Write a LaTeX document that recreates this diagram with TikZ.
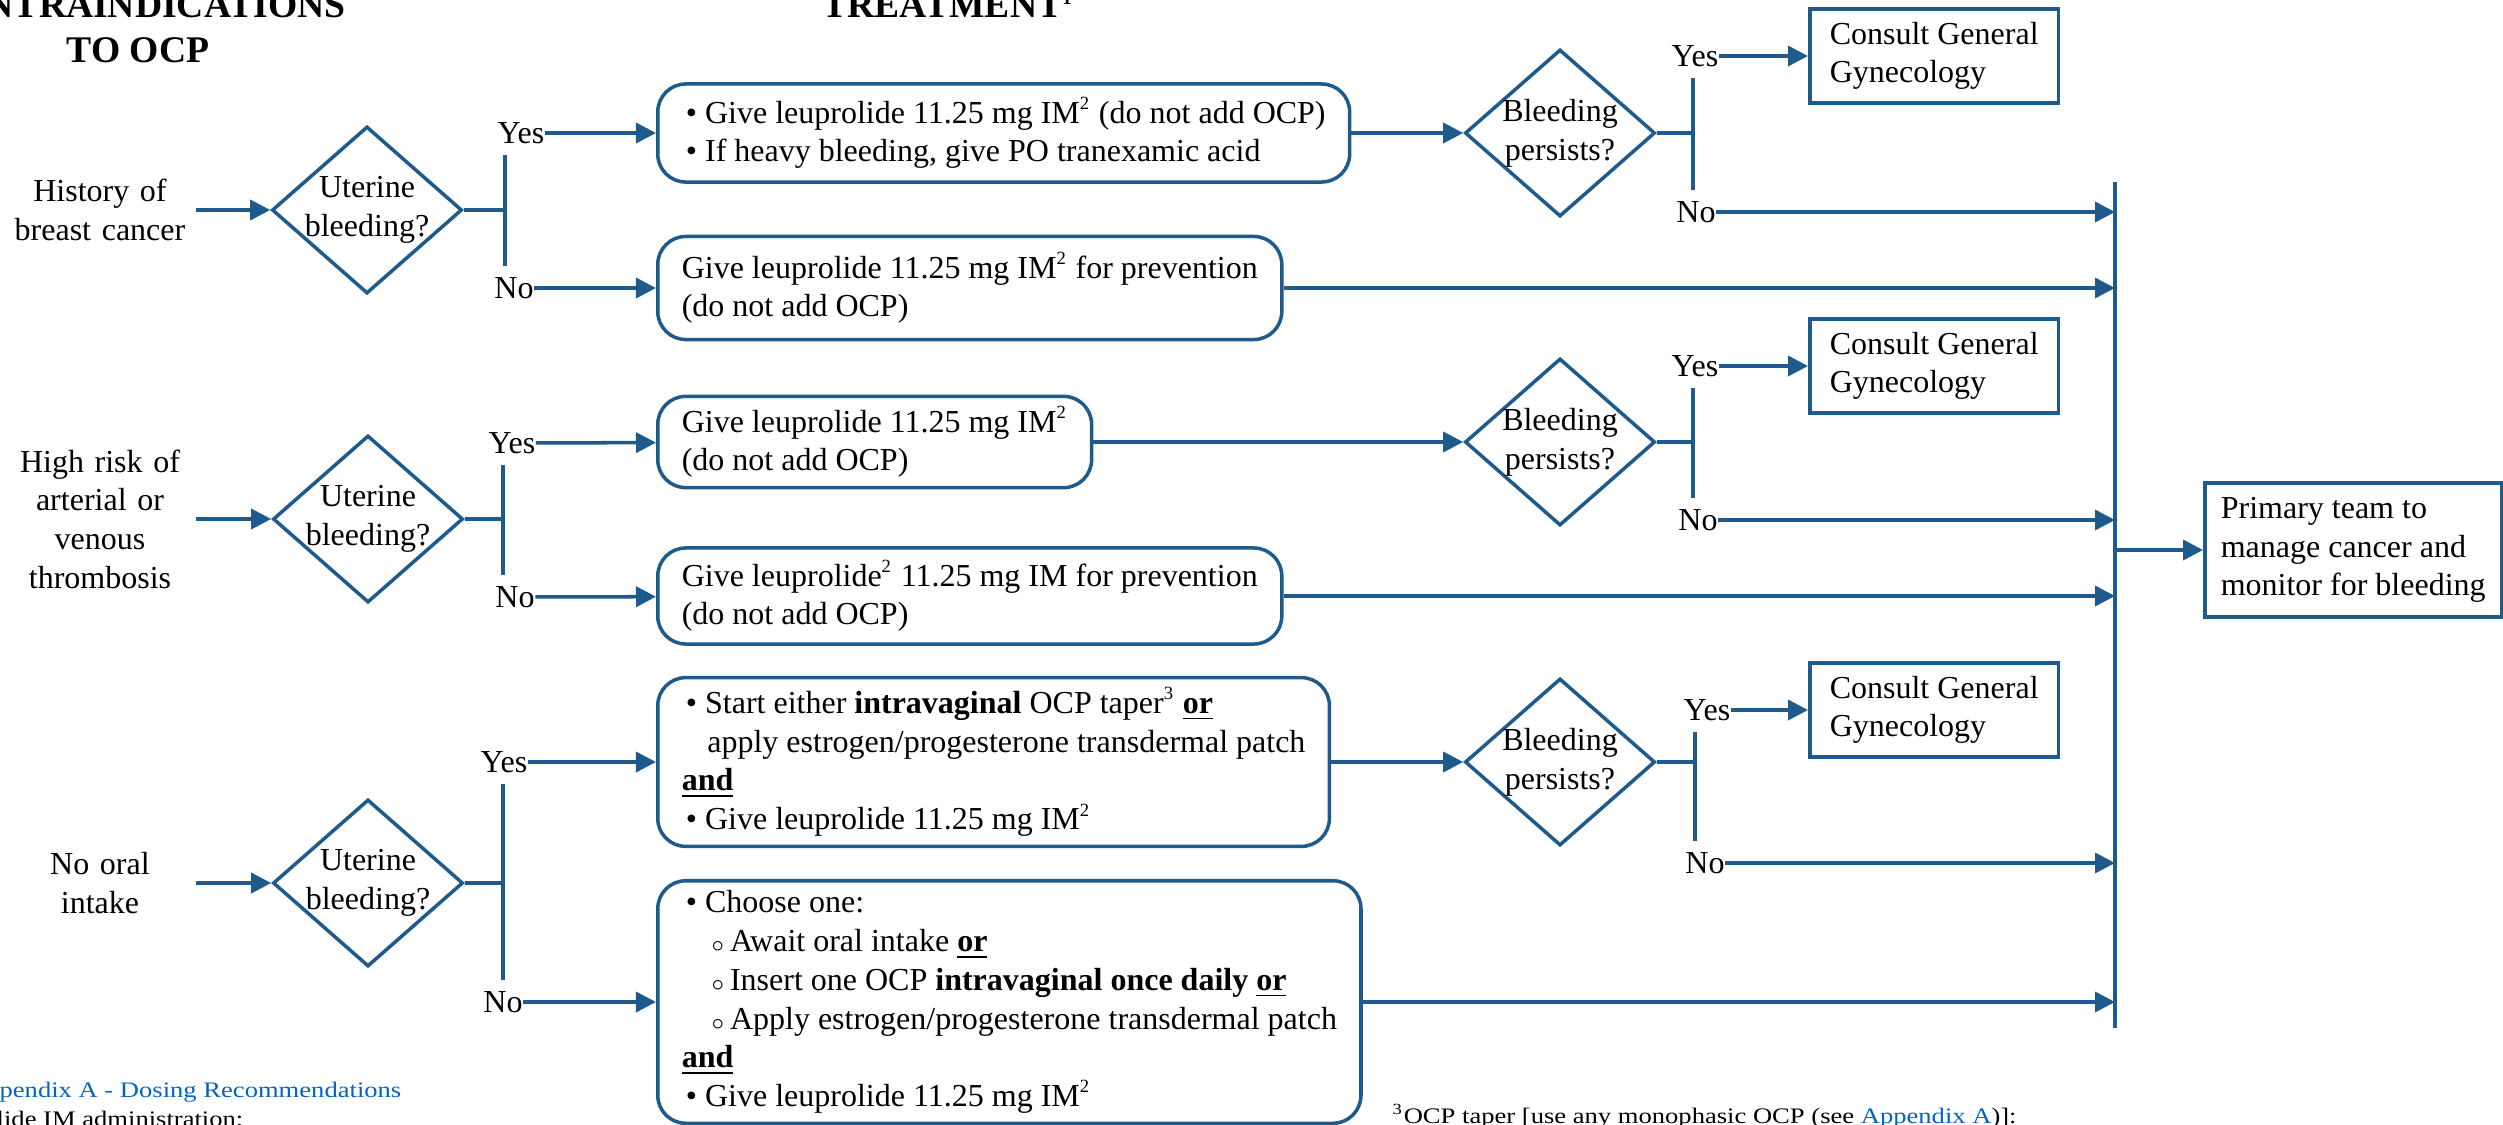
\documentclass[tikz,border=0pt]{standalone}
\usepackage{fontspec}
\setmainfont{Liberation Serif}
\newfontfamily\notefont{Liberation Serif}[FakeStretch=1.2]
\usepackage{xcolor}
\usepackage{tikz}
\usetikzlibrary{shapes.geometric, positioning, arrows.meta, calc}
\definecolor{flowblue}{RGB}{30,90,140}
\definecolor{linkblue}{RGB}{5,99,193}
\newcommand{\bulletitem}{\hspace*{0.13em}\textbullet\ }
\newcommand{\circitem}{\hspace*{0.92em}${\scriptstyle\circ}$\,}
\newcommand{\supnum}[1]{\textsuperscript{\fontsize{5.3pt}{5.3pt}\selectfont#1}}

\begin{document}
\begin{tikzpicture}[
        x=0.01cm, y=-0.01cm,
        font=\fontsize{9.1pt}{11pt}\selectfont,
        cond/.style={text width=1.9cm, inner sep=0pt, align=center},
        decision/.style={diamond, draw=flowblue, line width=1pt, minimum width=1.9cm, minimum height=1.67cm, inner sep=-3pt, align=center},
        treat/.style={rectangle, draw=flowblue, line width=1pt, rounded corners=0.28cm, align=left, inner xsep=0.24cm, inner ysep=0.1cm, anchor=west},
        consult/.style={rectangle, draw=flowblue, line width=1pt, align=left, inner xsep=0.2cm, minimum height=0.94cm, anchor=west},
        answer/.style={inner xsep=0pt, inner ysep=3pt},
        heading/.style={font=\fontsize{10.7pt}{12.8pt}\selectfont\bfseries, align=center},
        note/.style={font=\notefont\fontsize{6.3pt}{7.5pt}\selectfont, inner sep=0pt},
        branch/.style={draw=flowblue, line width=1pt},
        arr/.style={branch, -{Triangle[length=0.2cm, width=0.2cm]}}
    ]
    \useasboundingbox (0,0) rectangle (2503,1124);
    \clip (0,0) rectangle (2503,1124);

    % Column headings
    \node[heading] (hcontra) at (138,28) {CONTRAINDICATIONS\\TO OCP};
    \node[heading, anchor=base] (htreat) at (948,18) {TREATMENT\supnum{1}};

    % Collecting line and final box
    \coordinate (bus) at (2115,182);
    \coordinate (busend) at (2115,1028);
    \node[consult, inner xsep=0.16cm, minimum height=1.34cm] (prim) at (2203,550) {Primary team to\\manage cancer and\\monitor for bleeding};

    % Row 1: history of breast cancer
    \node[cond] (c1) at (100,210) {History of\\breast cancer};
    \node[decision] (q1) at (367,210) {Uterine\\bleeding?};
    \node[answer] (y1) at (521,133) {Yes};
    \node[answer] (n1) at (514,288) {No};
    \node[treat, minimum height=0.98cm] (b1) at (656,133) {\bulletitem Give leuprolide 11.25 mg IM\supnum{2} (do not add OCP)\\\bulletitem If heavy bleeding, give PO tranexamic acid};
    \node[treat, minimum height=1.03cm] (b2) at (656,288) {Give leuprolide 11.25 mg IM\supnum{2} for prevention\\(do not add OCP)};
    \node[decision] (p1) at (1560,133) {Bleeding\\persists?};
    \node[answer] (py1) at (1695,56) {Yes};
    \node[answer] (pn1) at (1696,212) {No};
    \node[consult] (g1) at (1808,56) {Consult General\\Gynecology};

    % Row 2: high risk of thrombosis
    \node[cond] (c2) at (100,519) {High risk of\\arterial or\\venous\\thrombosis};
    \node[decision] (q2) at (368,519) {Uterine\\bleeding?};
    \node[answer] (y2) at (512,443) {Yes};
    \node[answer] (n2) at (515,597) {No};
    \node[treat, minimum height=0.9cm] (b3) at (656,442) {Give leuprolide 11.25 mg IM\supnum{2}\\(do not add OCP)};
    \node[treat, minimum height=0.96cm] (b4) at (656,596) {Give leuprolide\supnum{2} 11.25 mg IM for prevention\\(do not add OCP)};
    \node[decision] (p2) at (1560,442) {Bleeding\\persists?};
    \node[answer] (py2) at (1695,366) {Yes};
    \node[answer] (pn2) at (1698,520) {No};
    \node[consult] (g2) at (1808,366) {Consult General\\Gynecology};

    % Row 3: no oral intake
    \node[cond] (c3) at (100,883) {No oral\\intake};
    \node[decision] (q3) at (368,883) {Uterine\\bleeding?};
    \node[answer] (y3) at (504,762) {Yes};
    \node[answer] (n3) at (503,1002) {No};
    \node[treat, minimum height=1.68cm] (b5) at (656,762) {\bulletitem Start either \textbf{intravaginal} OCP taper\supnum{3} \textbf{\underline{or}}\\\hspace*{0.8em}apply estrogen/progesterone transdermal patch\\\textbf{\underline{and}}\\\bulletitem Give leuprolide 11.25 mg IM\supnum{2}};
    \node[treat, minimum height=2.39cm] (b6) at (656,1002) {\bulletitem Choose one:\\\circitem Await oral intake \textbf{\underline{or}}\\\circitem Insert one OCP \textbf{intravaginal once daily \underline{or}}\\\circitem Apply estrogen/progesterone transdermal patch\\\textbf{\underline{and}}\\\bulletitem Give leuprolide 11.25 mg IM\supnum{2}};
    \node[decision] (p3) at (1560,762) {Bleeding\\persists?};
    \node[answer] (py3) at (1707,710) {Yes};
    \node[answer] (pn3) at (1705,863) {No};
    \node[consult] (g3) at (1808,710) {Consult General\\Gynecology};

    % Footnotes
    \node[note, anchor=base east, text=linkblue] (fnappx) at (402,1097) {Appendix A - Dosing Recommendations};
    \node[note, anchor=base east] (fnleup) at (244,1126) {Leuprolide IM administration:};
    \node[note, anchor=base west] (fntaper) at (1392,1123) {\textsuperscript{3}OCP taper [use any monophasic OCP (see \textcolor{linkblue}{Appendix A})]:};

    % Row 1 connectors
    \draw[arr] (c1) -- (q1);
    \draw[branch] (q1.east) -- ++(41,0) coordinate (j1);
    \draw[branch] (j1 |- y1.south) -- (j1 |- n1.north);
    \draw[arr] (y1) -- (b1);
    \draw[arr] (n1) -- (b2);
    \draw[arr] (b1) -- (p1);
    \draw[branch] (p1.east) -- ++(36,0) coordinate (k1);
    \draw[branch] (k1 |- py1.south) -- (k1 |- pn1.north);
    \draw[arr] (py1) -- (g1);
    \draw[arr] (pn1) -- (pn1 -| bus);
    \draw[arr] (b2) -- (b2 -| bus);

    % Row 2 connectors
    \draw[arr] (c2) -- (q2);
    \draw[branch] (q2.east) -- ++(38,0) coordinate (j2);
    \draw[branch] (j2 |- y2.south) -- (j2 |- n2.north);
    \draw[arr] (y2) -- (b3);
    \draw[arr] (n2) -- (b4);
    \draw[arr] (b3) -- (p2);
    \draw[branch] (p2.east) -- ++(36,0) coordinate (k2);
    \draw[branch] (k2 |- py2.south) -- (k2 |- pn2.north);
    \draw[arr] (py2) -- (g2);
    \draw[arr] (pn2) -- (pn2 -| bus);
    \draw[arr] (b4) -- (b4 -| bus);

    % Row 3 connectors
    \draw[arr] (c3) -- (q3);
    \draw[branch] (q3.east) -- ++(38,0) coordinate (j3);
    \draw[branch] (j3 |- y3.south) -- (j3 |- n3.north);
    \draw[arr] (y3) -- (b5);
    \draw[arr] (n3) -- (b6);
    \draw[arr] (b5) -- (p3);
    \draw[branch] (p3.east) -- ++(38,0) coordinate (k3);
    \draw[branch] (k3 |- py3.south) -- (k3 |- pn3.north);
    \draw[arr] (py3) -- (g3);
    \draw[arr] (pn3) -- (pn3 -| bus);
    \draw[arr] (b6) -- (b6 -| bus);

    % Collecting line into primary team
    \draw[branch] (bus) -- (busend);
    \draw[arr] (prim -| bus) -- (prim);

\end{tikzpicture}
\end{document}
